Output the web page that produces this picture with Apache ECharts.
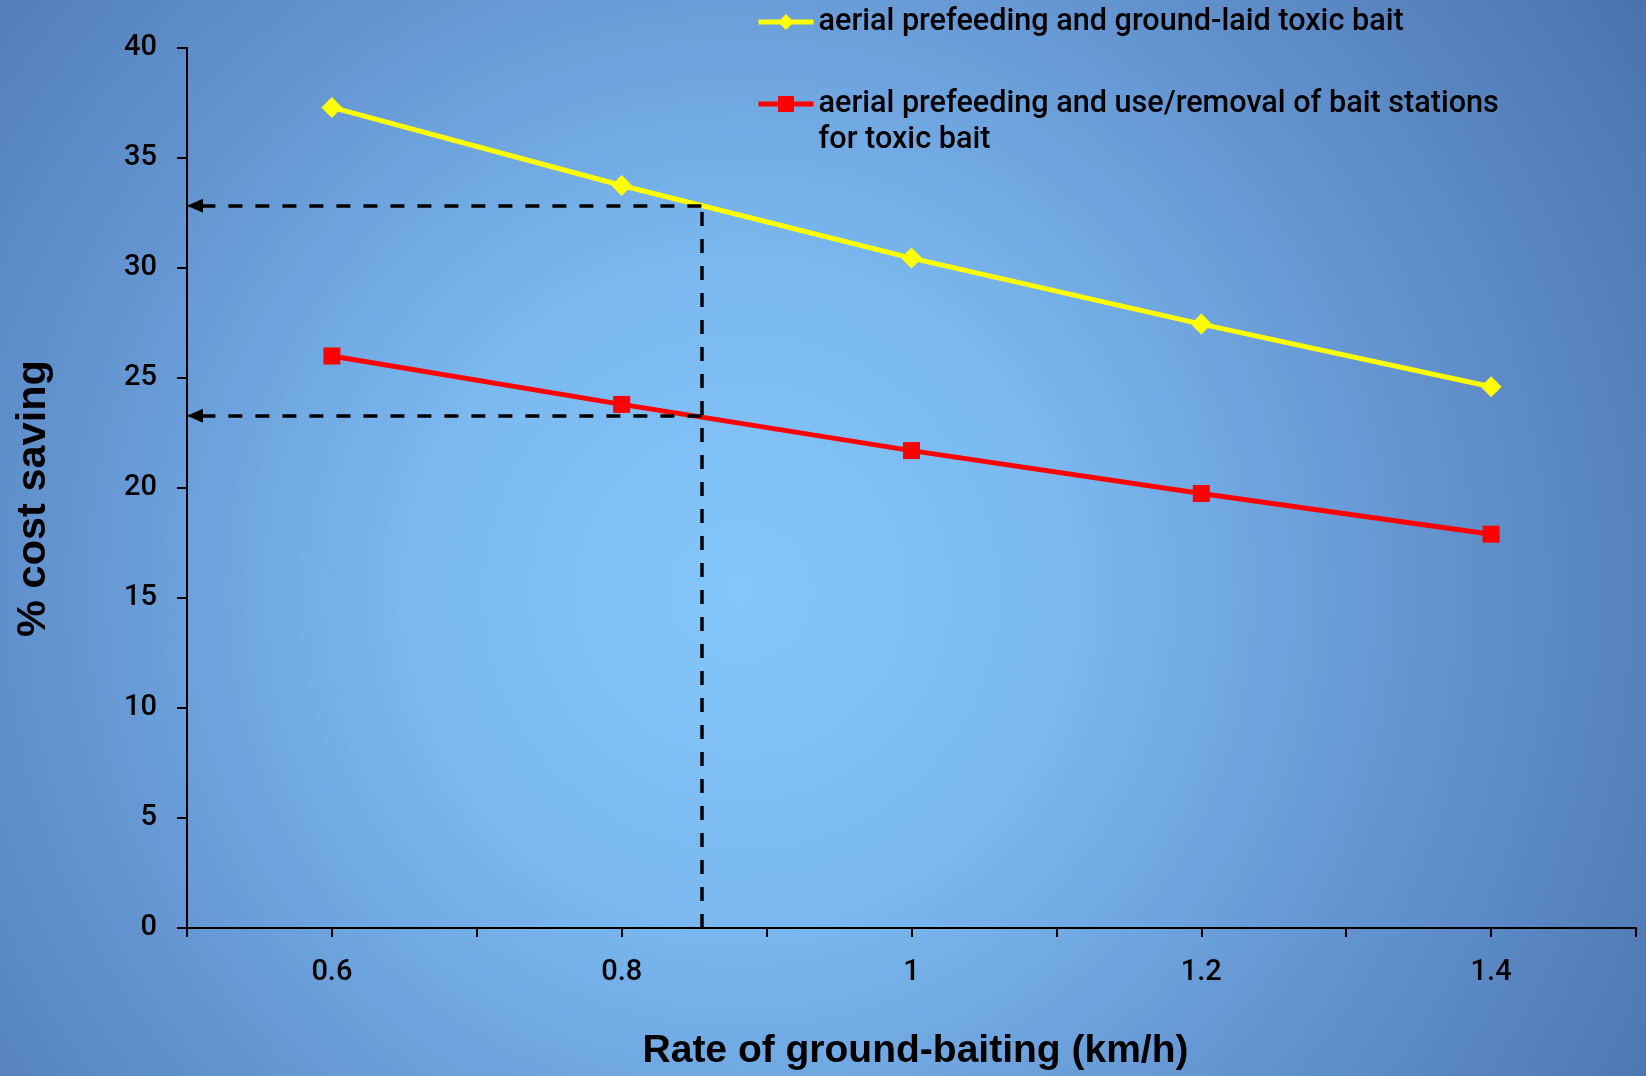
<!DOCTYPE html>
<html>
<head>
<meta charset="utf-8">
<script src="https://cdn.jsdelivr.net/npm/echarts@6/dist/echarts.min.js"></script>
<style>
html,body{margin:0;padding:0;width:1646px;height:1076px;overflow:hidden;}
#chart{width:1646px;height:1076px;}
</style>
</head>
<body>
<div id="chart"></div>
<script>
// ---- data ----
const rates = [0.6, 0.8, 1.0, 1.2, 1.4];
const groundLaid = [37.3, 33.75, 30.45, 27.45, 24.6];
const baitStations = [26.0, 23.8, 21.7, 19.75, 17.9];
const xTickLabels = [0.6, 0.8, 1.0, 1.2, 1.4];
const yTicks = [0, 5, 10, 15, 20, 25, 30, 35, 40];
const guideRate = 0.855;
const guideGround = 32.83;
const guideStations = 23.28;
const seriesNames = ['aerial prefeeding and ground-laid toxic bait',
                     'aerial prefeeding and use/removal of bait stations'];
const legendTexts = ['aerial prefeeding and ground-laid toxic bait',
                     '\naerial prefeeding and use/removal of bait stations\nfor toxic bait'];
const xTitle = 'Rate of ground-baiting (km/h)';
const yTitle = '% cost saving';

const FONT = '"Liberation Sans", Arial, sans-serif';
const LFONT = 'Roboto, "Liberation Sans", sans-serif';
const chart = echarts.init(document.getElementById('chart'));

const dashStyle = {color: '#000', width: 3.5, type: [14, 13]};
const arrowEnd = {symbol: 'triangle', symbolSize: [14, 16]};

const option = {
  animation: false,
  backgroundColor: {
    type: 'radial', x: 0.45, y: 0.55, r: 1.0,
    colorStops: [
      {offset: 0, color: '#84C6FA'},
      {offset: 0.3, color: '#7BB9F0'},
      {offset: 0.6, color: '#6698D4'},
      {offset: 1, color: '#4A73AE'}
    ]
  },
  textStyle: {fontFamily: FONT},
  grid: {left: 187, right: 10, top: 48, bottom: 144, containLabel: false},
  legend: {
    orient: 'vertical',
    left: 756, top: 4,
    padding: 0,
    itemGap: 10,
    itemWidth: 55,
    itemHeight: 20,
    textStyle: {fontSize: 30.6, fontWeight: 500, color: '#000', lineHeight: 36, fontFamily: LFONT},
    formatter: function (name) { return legendTexts[seriesNames.indexOf(name)]; },
    data: [
      {name: seriesNames[0], lineStyle: {width: 5}},
      {name: seriesNames[1], lineStyle: {width: 5}}
    ]
  },
  xAxis: {
    type: 'value',
    min: 0.5, max: 1.5, interval: 0.1,
    name: xTitle,
    nameLocation: 'middle',
    nameGap: 104,
    nameTextStyle: {fontSize: 39, fontWeight: 'bold', color: '#000', fontFamily: FONT, padding: [0, 0, 0, 8]},
    axisLine: {lineStyle: {color: '#000', width: 2}},
    axisTick: {show: true, length: 9, lineStyle: {color: '#000', width: 2}},
    splitLine: {show: false},
    axisLabel: {
      fontSize: 29, fontWeight: 500, fontFamily: LFONT, color: '#000', margin: 30,
      formatter: function (v) {
        const hit = xTickLabels.find(t => Math.abs(t - v) < 1e-6);
        return hit === undefined ? '' : String(hit);
      }
    }
  },
  yAxis: {
    type: 'value',
    min: yTicks[0], max: yTicks[yTicks.length - 1], interval: 5,
    name: yTitle,
    nameLocation: 'middle',
    nameGap: 132,
    nameRotate: 90,
    nameTextStyle: {fontSize: 41.5, fontWeight: 'bold', color: '#000', fontFamily: FONT, padding: [0, 21, 0, 0]},
    axisLine: {show: true, lineStyle: {color: '#000', width: 2}},
    axisTick: {show: true, length: 10, lineStyle: {color: '#000', width: 2}},
    splitLine: {show: false},
    axisLabel: {fontSize: 29, fontWeight: 500, fontFamily: LFONT, color: '#000', margin: 30}
  },
  series: [
    {
      name: seriesNames[0],
      type: 'line',
      data: rates.map((r, i) => [r, groundLaid[i]]),
      symbol: 'diamond',
      symbolSize: 21,
      lineStyle: {color: '#FFFF00', width: 5},
      itemStyle: {color: '#FFFF00'},
      z: 3,
      markLine: {
        silent: true,
        label: {show: false},
        lineStyle: dashStyle,
        symbol: ['none', 'none'],
        data: [
          [{coord: [guideRate, 0], symbol: 'none'}, {coord: [guideRate, guideGround], symbol: 'none'}],
          [{coord: [guideRate, guideGround], symbol: 'none'}, Object.assign({coord: [0.5, guideGround], symbolOffset: [0, 8]}, arrowEnd)],
          [{coord: [guideRate, guideStations], symbol: 'none'}, Object.assign({coord: [0.5, guideStations], symbolOffset: [0, 8]}, arrowEnd)]
        ]
      }
    },
    {
      name: seriesNames[1],
      type: 'line',
      data: rates.map((r, i) => [r, baitStations[i]]),
      symbol: 'rect',
      symbolSize: 17,
      lineStyle: {color: '#FF0000', width: 5},
      itemStyle: {color: '#FF0000'},
      z: 3
    }
  ]
};
chart.setOption(option);
</script>
</body>
</html>
